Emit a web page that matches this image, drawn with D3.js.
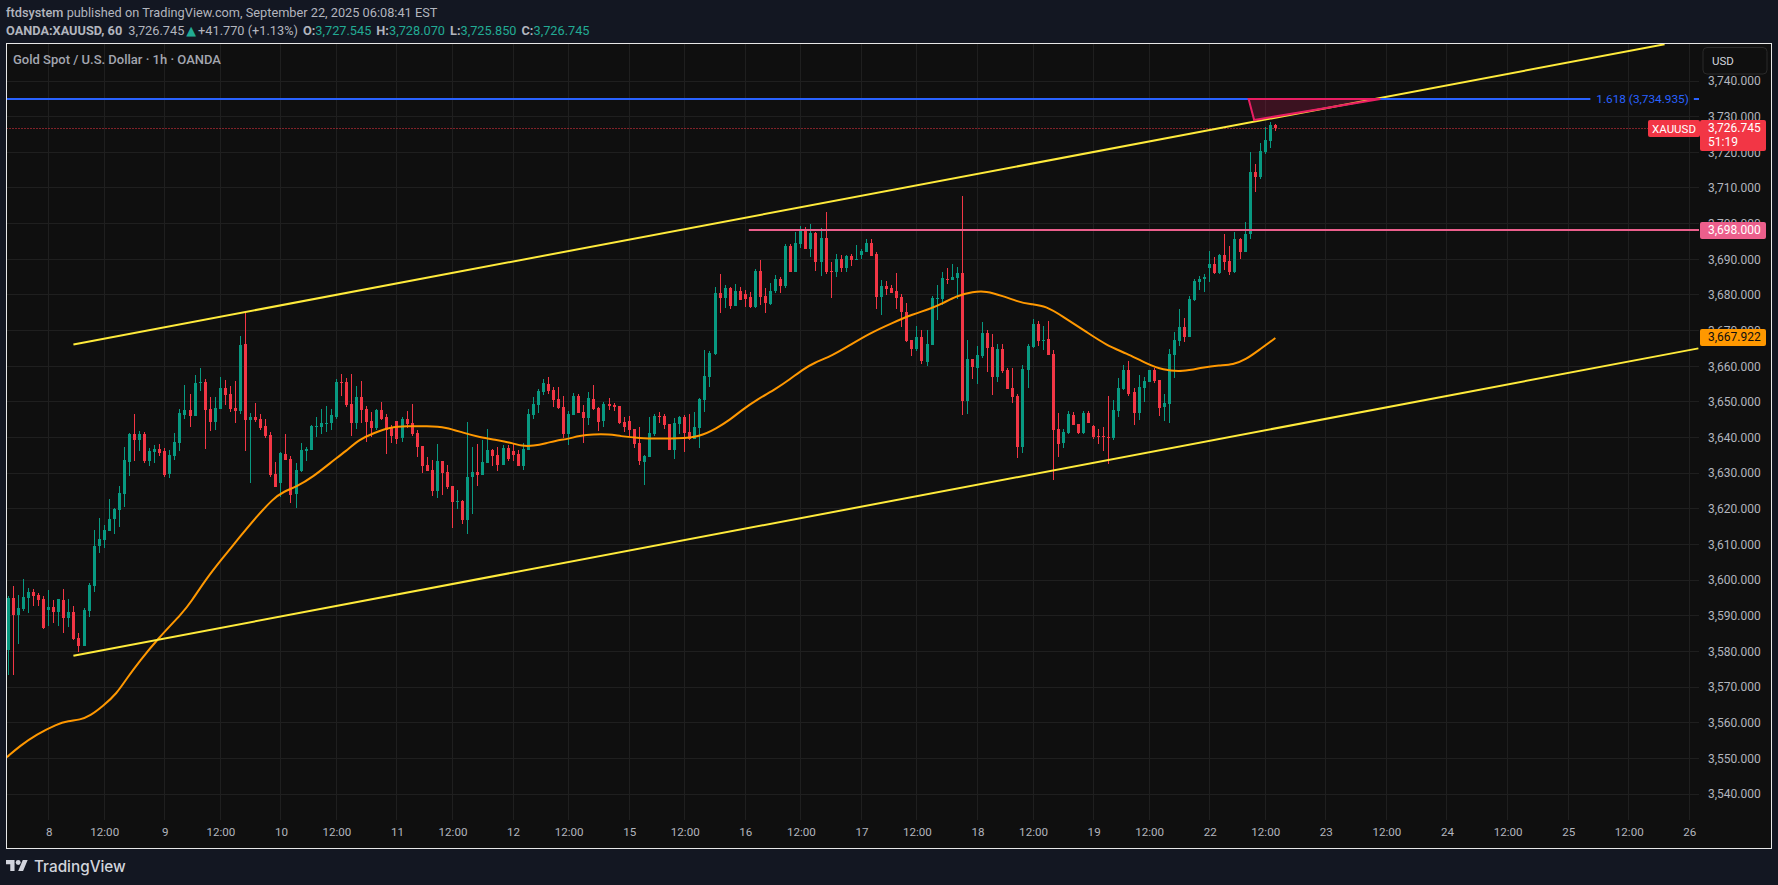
<!DOCTYPE html>
<html>
<head>
<meta charset="utf-8">
<title>XAUUSD 1h</title>
<script src="https://cdn.jsdelivr.net/npm/d3@7"></script>
<style>
  html, body { margin: 0; padding: 0; background: #131722; overflow: hidden; }
  svg { display: block; font-family: Roboto, sans-serif; }
</style>
</head>
<body>
<svg id="chart" width="1778" height="885"></svg>
<script>
// hourly candles
var opens = [3580.4,3595.0,3590.2,3591.9,3595.0,3596.7,3595.8,3594.7,3591.6,3592.5,3591.1,3594.4,3589.4,3591.1,3583.8,3581.5,3591.3,3598.4,3609.6,3611.3,
  3613.8,3617.1,3619.7,3624.2,3633.1,3641.0,3639.3,3641.0,3633.4,3635.9,3636.8,3636.2,3629.8,3634.8,3638.5,3646.3,3647.7,3646.0,3655.3,3655.6,
  3648.0,3644.4,3648.0,3653.9,3652.2,3648.3,3647.4,3666.2,3644.9,3645.8,3645.2,3643.2,3640.7,3629.8,3627.2,3635.4,3634.0,3624.2,3630.6,3636.2,
  3636.5,3643.0,3643.0,3643.8,3644.1,3645.8,3655.6,3655.6,3649.4,3644.1,3651.4,3648.0,3644.6,3642.7,3647.7,3645.8,3643.0,3644.6,3639.9,3645.2,
  3644.1,3641.3,3637.6,3632.3,3630.9,3625.0,3633.4,3630.3,3626.4,3621.9,3622.2,3616.9,3628.9,3630.3,3629.5,3632.9,3636.5,3635.1,3632.3,3637.1,
  3636.2,3635.4,3632.0,3636.5,3646.3,3649.1,3652.8,3655.0,3653.3,3650.8,3648.6,3641.0,3646.3,3651.6,3647.2,3645.5,3650.8,3648.3,3644.6,3649.4,
  3649.1,3648.8,3644.4,3644.6,3642.4,3638.5,3633.1,3634.5,3641.0,3646.0,3646.0,3643.8,3636.5,3643.8,3645.8,3641.5,3639.6,3642.7,3650.5,3657.0,
  3663.4,3680.5,3679.1,3681.9,3676.9,3681.1,3680.3,3679.4,3676.6,3686.7,3679.7,3677.5,3681.1,3684.5,3682.5,3693.7,3686.4,3694.3,3698.5,3692.9,
  3697.4,3689.2,3696.0,3686.7,3686.4,3690.1,3687.5,3690.9,3689.8,3691.2,3692.0,3694.6,3691.5,3679.4,3682.5,3681.9,3681.1,3679.4,3675.2,3667.4,
  3664.8,3668.2,3661.2,3665.9,3678.9,3678.9,3684.5,3684.2,3684.7,3686.1,3650.2,3662.0,3659.5,3662.9,3669.3,3665.4,3657.0,3664.8,3658.9,3653.9,
  3651.6,3637.3,3658.9,3665.4,3671.8,3667.1,3667.6,3663.4,3642.4,3638.5,3641.3,3646.3,3643.8,3641.3,3646.9,3643.2,3640.4,3640.4,3640.1,3639.9,
  3647.4,3653.6,3658.9,3652.8,3646.9,3653.9,3655.6,3658.9,3656.1,3648.6,3649.4,3663.1,3667.1,3671.0,3668.2,3678.6,3683.6,3684.5,3687.5,3688.7,
  3686.1,3691.2,3689.5,3686.4,3695.7,3692.0,3697.1,3714.5,3713.1,3720.1,3723.2,3727.545];
var highs = [3595.5,3598.4,3595.8,3600.3,3597.8,3597.5,3596.4,3595.5,3597.2,3594.4,3594.7,3597.5,3594.7,3592.7,3585.2,3592.2,3599.2,3614.1,3617.4,3615.5,
  3622.8,3620.2,3626.4,3637.3,3641.3,3646.6,3641.8,3641.5,3637.1,3637.9,3638.2,3637.1,3636.5,3641.3,3648.0,3654.7,3652.2,3657.5,3659.5,3656.4,
  3651.4,3651.4,3657.0,3656.1,3654.4,3655.9,3668.5,3674.9,3646.9,3649.7,3646.6,3645.2,3641.5,3633.1,3635.9,3641.0,3634.8,3632.9,3638.5,3637.3,
  3643.5,3645.8,3648.0,3648.8,3648.0,3656.4,3657.8,3656.7,3657.8,3654.5,3655.9,3648.8,3647.2,3648.0,3650.0,3646.6,3643.5,3644.6,3645.8,3647.4,
  3649.4,3642.1,3637.6,3634.5,3633.7,3638.2,3633.4,3632.3,3626.4,3625.3,3622.5,3644.4,3637.3,3638.2,3639.3,3642.4,3636.8,3637.3,3637.9,3637.9,
  3638.2,3636.5,3638.5,3648.0,3651.4,3653.6,3656.4,3657.0,3654.2,3654.2,3651.6,3647.4,3652.5,3652.2,3649.1,3652.8,3654.7,3648.6,3650.0,3651.1,
  3649.7,3648.8,3645.8,3646.0,3642.4,3643.0,3635.1,3645.8,3646.6,3647.2,3646.6,3643.8,3645.5,3646.0,3646.3,3646.6,3647.2,3651.1,3664.5,3664.3,
  3682.2,3685.9,3682.8,3682.2,3683.1,3682.2,3681.4,3680.8,3687.3,3689.8,3681.9,3683.3,3685.6,3685.0,3694.3,3694.3,3697.6,3699.3,3699.0,3699.9,
  3697.6,3698.8,3703.3,3689.2,3691.5,3691.2,3691.2,3691.5,3694.0,3692.9,3695.7,3695.7,3692.0,3684.2,3683.9,3682.8,3686.1,3680.3,3677.7,3667.4,
  3671.3,3670.2,3670.2,3679.7,3682.8,3686.4,3687.5,3688.7,3687.8,3707.7,3667.3,3662.0,3665.7,3672.4,3670.2,3669.0,3666.2,3666.2,3659.5,3659.5,
  3652.2,3660.3,3666.2,3673.2,3672.7,3671.3,3672.7,3664.5,3646.9,3642.4,3647.4,3647.2,3643.8,3647.4,3647.4,3643.5,3642.4,3642.9,3651.6,3650.5,
  3656.7,3660.3,3661.5,3653.9,3657.5,3657.0,3658.9,3659.5,3656.1,3652.2,3664.8,3669.6,3676.0,3673.5,3679.7,3684.5,3685.3,3685.9,3692.3,3690.6,
  3691.5,3697.1,3693.7,3697.6,3695.9,3700.4,3720.1,3716.7,3722.6,3727.1,3728.5,3728.07];
var lows = [3573.4,3573.4,3582.1,3591.4,3590.8,3592.7,3592.7,3586.3,3587.1,3588.0,3587.1,3585.2,3586.8,3583.2,3579.8,3581.5,3589.7,3596.7,3607.6,3609.0,
  3613.8,3612.9,3614.9,3620.5,3629.2,3633.4,3636.2,3632.9,3632.0,3632.9,3634.8,3628.9,3628.6,3633.7,3636.2,3645.2,3643.0,3646.0,3653.0,3636.8,
  3641.8,3642.1,3648.0,3649.1,3647.2,3644.1,3646.6,3636.2,3627.2,3644.4,3642.1,3639.9,3628.9,3626.1,3623.3,3633.7,3621.6,3620.2,3630.3,3633.4,
  3636.5,3640.1,3641.0,3641.5,3642.1,3645.2,3651.6,3648.6,3640.4,3642.4,3644.1,3638.7,3640.1,3642.1,3644.9,3635.4,3638.5,3638.2,3638.7,3642.7,
  3640.4,3634.5,3630.0,3630.6,3623.6,3623.0,3623.9,3625.6,3614.6,3620.0,3615.7,3612.9,3618.5,3626.4,3629.5,3632.9,3632.0,3630.6,3632.3,3633.4,
  3633.4,3632.0,3630.9,3636.5,3645.2,3646.9,3651.9,3652.2,3648.6,3648.0,3639.9,3637.9,3646.3,3646.9,3638.5,3643.5,3647.7,3641.8,3643.0,3647.7,
  3647.4,3643.8,3641.5,3640.1,3637.1,3632.3,3626.7,3634.5,3640.4,3644.1,3642.4,3636.5,3634.0,3641.0,3635.9,3639.3,3639.6,3637.1,3647.2,3654.2,
  3663.1,3674.9,3676.3,3676.0,3676.9,3678.6,3676.6,3676.3,3676.3,3677.2,3674.9,3677.2,3680.5,3680.5,3681.9,3686.4,3686.4,3693.2,3692.9,3690.6,
  3686.7,3685.3,3685.9,3679.1,3685.0,3686.4,3686.4,3688.1,3689.8,3690.1,3692.0,3690.9,3676.0,3674.4,3680.0,3680.5,3676.0,3671.0,3666.8,3662.9,
  3664.3,3660.6,3660.1,3665.9,3673.0,3677.2,3683.1,3684.2,3678.9,3646.3,3646.6,3656.4,3655.0,3662.3,3658.4,3651.9,3655.6,3658.1,3653.6,3649.7,
  3634.2,3635.6,3653.9,3665.1,3665.7,3664.5,3663.1,3628.1,3634.5,3637.1,3641.0,3643.5,3641.0,3641.0,3644.1,3639.6,3638.2,3636.2,3632.6,3639.3,
  3645.8,3653.3,3651.6,3643.5,3644.9,3650.0,3655.6,3655.3,3646.0,3644.6,3644.1,3656.7,3665.7,3666.8,3668.2,3678.3,3681.4,3680.8,3683.6,3685.9,
  3685.9,3687.0,3685.6,3686.1,3690.1,3692.0,3695.7,3708.9,3712.5,3719.5,3721.2,3725.85];
var closes = [3594.9,3590.2,3592.1,3595.3,3596.7,3595.5,3594.4,3586.6,3592.5,3591.1,3594.7,3589.4,3591.1,3583.5,3581.5,3591.6,3598.6,3609.6,3611.5,3614.1,
  3617.1,3620.0,3624.4,3633.7,3641.0,3639.3,3641.0,3633.4,3636.2,3636.8,3635.7,3629.5,3635.1,3638.7,3646.9,3647.7,3646.0,3655.3,3655.6,3647.7,
  3644.4,3648.3,3653.9,3651.9,3648.0,3647.4,3666.0,3644.9,3645.8,3644.9,3642.7,3640.4,3629.5,3626.1,3635.7,3633.7,3623.9,3630.9,3636.5,3636.8,
  3643.2,3643.2,3644.1,3644.1,3646.3,3655.6,3655.3,3649.1,3644.1,3651.4,3647.7,3644.4,3642.7,3647.7,3645.2,3642.1,3640.4,3639.6,3645.2,3643.8,
  3641.0,3637.3,3632.0,3630.6,3625.0,3633.4,3630.0,3626.1,3621.9,3622.2,3616.9,3628.9,3630.3,3629.5,3633.1,3636.5,3634.8,3632.3,3637.1,3634.0,
  3635.1,3632.0,3636.8,3646.6,3649.4,3653.0,3655.3,3653.0,3650.5,3648.3,3641.0,3646.6,3651.6,3646.9,3645.5,3651.1,3648.0,3644.4,3649.4,3648.8,
  3648.6,3644.1,3643.0,3642.1,3638.2,3633.4,3634.8,3641.3,3646.0,3645.8,3643.5,3636.5,3644.1,3645.8,3641.3,3639.6,3643.0,3650.8,3657.3,3663.7,
  3680.5,3679.1,3681.9,3676.9,3681.1,3678.6,3678.9,3676.6,3686.7,3679.4,3677.7,3681.1,3684.5,3682.5,3693.7,3686.4,3694.6,3698.5,3692.9,3697.4,
  3689.2,3696.0,3686.4,3686.4,3690.1,3687.5,3690.9,3689.8,3690.1,3692.3,3694.6,3690.9,3679.4,3682.5,3681.7,3680.5,3679.1,3675.2,3667.1,3664.8,
  3668.2,3661.5,3666.2,3679.1,3679.1,3684.7,3684.2,3685.0,3686.1,3650.2,3662.0,3659.8,3663.1,3669.3,3665.1,3657.0,3664.8,3658.6,3653.6,3651.4,
  3637.3,3659.2,3665.7,3671.8,3667.1,3667.3,3663.1,3642.1,3638.2,3641.5,3646.6,3643.5,3641.3,3646.9,3644.1,3640.1,3640.1,3640.1,3639.9,3647.7,
  3653.9,3658.9,3652.2,3646.9,3654.2,3655.8,3658.9,3655.8,3648.3,3649.7,3663.4,3667.3,3671.0,3668.2,3678.9,3683.9,3684.5,3685.0,3688.7,3686.1,
  3691.2,3689.2,3686.4,3695.7,3692.0,3697.1,3714.5,3713.1,3720.4,3723.5,3727.7,3726.745];

// orange moving average, read at knots along the line
var maBars = [-0.3,2.3,5.6,9.6,11.9,14.2,16.2,18.8,21.5,23.5,26.1,29.4,34.7,36,39.3,41.9,45.9,49.2,52.5,54.5,57.1,60.4,63.7,67,69.6,72.3,75.6,78.9,82.9,86.8,
  90.1,93.4,96.7,100,101.7,104,106.6,108.6,110.6,113.2,115.8,119.1,121.1,125.1,129,132.4,137,140.3,142.9,145.5,148.2,152.2,154.8,157.4,159.4,163.4,166.7,170.6,175.2,179.2,
  182.5,185.1,187.8,191.1,193.7,197,200,202.3,205.6,208.9,213.5,217.5,221.5,225.4,228.7,232.7,236.6,239.9,242.6,245.2,247.9,251];
var maValues = [3550.3,3553.5,3556.7,3559.6,3560.5,3560.8,3561.9,3564.7,3568.2,3572.5,3577.4,3583.2,3591.1,3593.5,3600.5,3605.2,3612.2,3617.8,3622.9,3624.8,3626.2,3629.0,3632.8,3636.3,3639.5,3641.2,3642.9,3643.2,3643.2,3642.9,
  3641.3,3640.1,3639.3,3638.4,3637.6,3637.6,3638.4,3639.2,3639.5,3640.5,3640.9,3640.9,3640.4,3639.8,3639.7,3639.7,3640.2,3642.6,3644.9,3647.9,3650.5,3653.8,3656.3,3659.1,3660.8,3663.1,3665.9,3669.2,3672.2,3674.6,
  3676.0,3677.6,3679.7,3680.9,3681.1,3679.7,3678.1,3677.4,3676.9,3673.9,3669.7,3665.9,3663.6,3660.8,3658.9,3658.4,3659.7,3660.3,3660.4,3661.9,3664.7,3667.9];

// drawings on the chart, as [bar, price] ends
var upperChannel = [[12.9, 3666.1], [328.1, 3750.3]];
var lowerChannel = [[12.9, 3578.8], [334.8, 3665.0]];
var resistance = [146.7, 335, 3698];
var fibLine = [-2, 313.4, 3734.935];
var fibStub = [333.9, 335, 3734.935];
var wedge = [[245.7, 3734.935], [246.8, 3729.06], [271.8, 3734.935]];

var priceTicks = [3740,3730,3720,3710,3700,3690,3680,3670,3660,3650,3640,3630,3620,3610,3600,3590,3580,3570,3560,3550,3540];
var timeBars = [8,19,31,42,54,65,77,88,100,111,123,134,146,157,169,180,192,203,215,226,238,249,261,273,285,297,309,321,333];
var timeLabels = ['8','12:00','9','12:00','10','12:00','11','12:00','12','12:00','15','12:00','16','12:00','17','12:00','18','12:00','19','12:00','22','12:00','23','12:00','24','12:00','25','12:00','26'];
var lastPrice = 3726.745;
var countdown = '51:19';
var resistanceLabel = 3698;
var maLabel = 3667.922;

var GREEN = '#089981', RED = '#f23645', ORANGE = '#ff9800', YELLOW = '#ffeb3b', BLUE = '#2962ff', PINK = '#ec5f8c', WEDGE = '#e91e63';
var plot = { left: 6.5, right: 1699, top: 43.5, bottom: 820, frameRight: 1771.5, frameBottom: 848.5 };

var svg = d3.select('#chart');
var x = d3.scaleLinear().domain([0, 333]).range([8.3, 1689.3]);
var y = d3.scaleLinear().domain([3740, 3540]).range([81, 794]);
var fmt = d3.format(',.3f');

// pane and frame
svg.append('rect').attr('x', plot.left).attr('y', plot.top)
    .attr('width', plot.frameRight - plot.left).attr('height', plot.frameBottom - plot.top)
    .attr('fill', '#0f0f0f').attr('stroke', '#e8e8e8').attr('stroke-width', 1);

svg.append('clipPath').attr('id', 'pane').append('rect')
    .attr('x', plot.left + 0.5).attr('y', plot.top + 0.5)
    .attr('width', plot.right - plot.left - 0.5).attr('height', plot.bottom - plot.top);

// grid
var grid = svg.append('g').attr('stroke', '#1f1f1f').attr('stroke-width', 1);
grid.selectAll('.h').data(priceTicks).enter().append('line')
    .attr('x1', plot.left + 0.5).attr('x2', plot.right)
    .attr('y1', function(d) { return Math.floor(y(d)) + 0.5; })
    .attr('y2', function(d) { return Math.floor(y(d)) + 0.5; });
grid.selectAll('.v').data(timeBars).enter().append('line')
    .attr('y1', plot.top + 0.5).attr('y2', plot.bottom)
    .attr('x1', function(d) { return Math.floor(x(d)) + 0.5; })
    .attr('x2', function(d) { return Math.floor(x(d)) + 0.5; });

// axes
var priceAxis = svg.append('g').attr('transform', 'translate(1708,0)')
    .call(d3.axisRight(y).tickValues(priceTicks).tickSize(0).tickPadding(0).tickFormat(fmt));
var timeAxis = svg.append('g').attr('transform', 'translate(0,' + plot.bottom + ')')
    .call(d3.axisBottom(x).tickValues(timeBars).tickSize(0).tickPadding(8)
        .tickFormat(function(d, i) { return timeLabels[i]; }));
priceAxis.selectAll('text').style('font-size', '12px');
timeAxis.selectAll('text').style('font-size', '11.6px');
[priceAxis, timeAxis].forEach(function(a) {
    a.select('.domain').remove();
    a.selectAll('text').attr('fill', '#b2b5be').style('font-family', 'Roboto, sans-serif');
});

var pane = svg.append('g').attr('clip-path', 'url(#pane)');

// last price dotted line
pane.append('line').attr('x1', plot.left).attr('x2', 1648)
    .attr('y1', Math.floor(y(lastPrice)) + 0.5).attr('y2', Math.floor(y(lastPrice)) + 0.5)
    .attr('stroke', RED).attr('stroke-width', 1).attr('stroke-dasharray', '1,2');

var lineXY = d3.line().x(function(d) { return x(d[0]); }).y(function(d) { return y(d[1]); });

// candles
var candles = opens.map(function(o, i) {
    return { i: i, o: o, h: highs[i], l: lows[i], c: closes[i] };
});
var candleG = pane.append('g').attr('shape-rendering', 'crispEdges');
candleG.selectAll('.wick').data(candles).enter().append('rect')
    .attr('x', function(d) { return Math.floor(x(d.i)); })
    .attr('width', 1)
    .attr('y', function(d) { return y(d.h); })
    .attr('height', function(d) { return y(d.l) - y(d.h); })
    .attr('fill', function(d) { return d.c >= d.o ? GREEN : RED; });
candleG.selectAll('.body').data(candles).enter().append('rect')
    .attr('x', function(d) { return Math.floor(x(d.i)) - 1; })
    .attr('width', 3)
    .attr('y', function(d) { return y(Math.max(d.o, d.c)); })
    .attr('height', function(d) { return Math.max(1, Math.abs(y(d.o) - y(d.c))); })
    .attr('fill', function(d) { return d.c >= d.o ? GREEN : RED; });

// moving average
pane.append('path')
    .datum(maBars.map(function(b, i) { return [b, maValues[i]]; }))
    .attr('d', d3.line().x(function(d) { return x(d[0]); }).y(function(d) { return y(d[1]); }).curve(d3.curveBasis))
    .attr('fill', 'none').attr('stroke', ORANGE).attr('stroke-width', 2);

// channel, levels, wedge
[upperChannel, lowerChannel].forEach(function(seg) {
    pane.append('path').datum(seg).attr('d', lineXY).attr('fill', 'none')
        .attr('stroke', YELLOW).attr('stroke-width', 2);
});
[[fibLine, BLUE], [fibStub, BLUE], [resistance, PINK]].forEach(function(l) {
    pane.append('line').attr('x1', x(l[0][0])).attr('x2', x(l[0][1]))
        .attr('y1', Math.floor(y(l[0][2]))).attr('y2', Math.floor(y(l[0][2])))
        .attr('stroke', l[1]).attr('stroke-width', 2);
});
pane.append('path').datum(wedge).attr('d', function(d) { return lineXY(d) + 'Z'; })
    .attr('fill', WEDGE).attr('fill-opacity', 0.2)
    .attr('stroke', WEDGE).attr('stroke-width', 2).attr('stroke-linejoin', 'miter');

pane.append('text').attr('x', x(333.9) - 5).attr('y', y(3734.935)).attr('dy', '0.35em')
    .attr('text-anchor', 'end').attr('fill', BLUE).style('font-size', '11.8px')
    .text('1.618 (' + fmt(3734.935) + ')');

// price scale labels
function axisTag(top, h, fill, lines, color) {
    svg.append('rect').attr('x', 1700).attr('y', top).attr('width', 66).attr('height', h)
        .attr('rx', 2).attr('fill', fill);
    lines.forEach(function(t, i) {
        svg.append('text').attr('x', 1708).attr('y', top + 8 + i * 14).attr('dy', '0.35em')
            .attr('fill', color).style('font-size', '12px').text(t);
    });
}
svg.append('rect').attr('x', 1648).attr('y', 120).attr('width', 52).attr('height', 17).attr('rx', 2).attr('fill', RED);
svg.append('text').attr('x', 1674).attr('y', 128.5).attr('dy', '0.35em').attr('text-anchor', 'middle')
    .attr('fill', '#fff').style('font-size', '11.5px').text('XAUUSD');
axisTag(120, 31, RED, [fmt(lastPrice), countdown], '#fff');
axisTag(222, 17, PINK, [fmt(resistanceLabel)], '#fff');
axisTag(329, 17, ORANGE, [fmt(maLabel)], '#0f0f0f');

// currency button
svg.append('rect').attr('x', 1703).attr('y', 47.5).attr('width', 64).attr('height', 26.5).attr('rx', 4)
    .attr('fill', '#0f0f0f').attr('stroke', '#2a2a2a').attr('stroke-width', 1);
svg.append('text').attr('x', 1712).attr('y', 60.5).attr('dy', '0.35em')
    .attr('fill', '#d1d4dc').style('font-size', '11.5px').text('USD');

// header text
var head1 = svg.append('text').attr('x', 6).attr('y', 17).attr('fill', '#b2b5be').style('font-size', '12.75px');
head1.append('tspan').attr('font-weight', 500).text('ftdsystem');
head1.append('tspan').text(' published on TradingView.com, September 22, 2025 06:08:41 EST');

var head2 = svg.append('text').attr('x', 6).attr('y', 35).attr('fill', '#b2b5be').style('font-size', '12.75px');
var UP = '#22ab94';
head2.append('tspan').attr('font-weight', 700).text('OANDA:XAUUSD, 60');
head2.append('tspan').attr('dx', 6).text('3,726.745');
head2.append('tspan').attr('dx', 2).attr('fill', UP).style('font-family', 'DejaVu Sans').text('▲');
head2.append('tspan').attr('dx', 2).text('+41.770 (+1.13%)');
[['O:', '3,727.545'], ['H:', '3,728.070'], ['L:', '3,725.850'], ['C:', '3,726.745']].forEach(function(p) {
    head2.append('tspan').attr('dx', 5).attr('font-weight', 700).text(p[0]);
    head2.append('tspan').attr('fill', UP).text(p[1]);
});

svg.append('text').attr('x', 13).attr('y', 64).attr('fill', '#a3a6af').style('font-size', '13px')
    .attr('font-weight', 500).text('Gold Spot / U.S. Dollar · 1h · OANDA');

// logo
var logo = svg.append('g').attr('transform', 'translate(6,857.6) scale(0.61)').attr('fill', '#d1d4dc');
logo.append('path').attr('d', 'M14 22H7V11H0V4h14v18zM28 22h-8l7.5-18h8L28 22z');
logo.append('circle').attr('cx', 20).attr('cy', 8).attr('r', 4);
svg.append('text').attr('x', 34).attr('y', 872).attr('fill', '#d1d4dc')
    .style('font-size', '15.3px').attr('font-weight', 500).style('font-family', 'Inter, sans-serif').text('TradingView');
</script>
</body>
</html>
